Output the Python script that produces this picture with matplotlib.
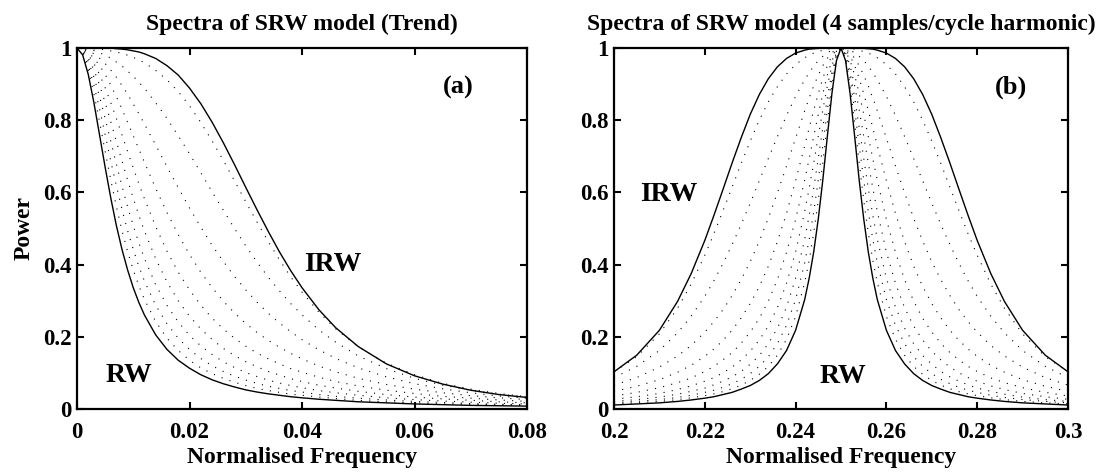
import numpy as np
import matplotlib
matplotlib.use('Agg')
import matplotlib.pyplot as plt

plt.rcParams['font.family'] = ['Liberation Serif', 'DejaVu Serif']
plt.rcParams['font.weight'] = 'bold'
plt.rcParams['axes.titleweight'] = 'bold'
plt.rcParams['axes.labelweight'] = 'bold'

# (a) trend: normalised frequency and power of RW, IRW and the SRW cases between them
freq_trend = [0, .001, .002, .003, .004, .005, .006, .007, .008, .009, .010, .011, .012,
              .014, .016, .018, .020, .022, .024, .026, .028, .030, .032, .034, .036, .038,
              .040, .043, .046, .050, .055, .060, .065, .070, .075, .080]
rw_trend = [1.0, .981, .927, .849, .760, .670, .585, .508, .442, .385, .336, .295, .260,
            .205, .165, .135, .113, .095, .081, .070, .061, .053, .047, .042, .038, .034,
            .031, .027, .024, .020, .017, .014, .012, .010, .009, .008]
irw_trend = [1.0, 1.0, 1.0, 1.0, 1.0, 1.0, 1.0, .998, .997, .995, .992, .989, .984,
             .971, .951, .925, .889, .846, .795, .738, .677, .614, .552, .492, .435, .383,
             .336, .275, .225, .173, .125, .092, .069, .052, .040, .032]
# smoothing parameter 0.1 ... 0.9
srw_trend = [
    [1.0, .984, .940, .874, .796, .714, .635, .561, .494, .436, .385, .341, .303,
     .242, .196, .162, .135, .114, .098, .085, .074, .065, .057, .051, .046, .041,
     .038, .033, .029, .024, .020, .017, .014, .013, .011, .010],
    [1.0, .988, .952, .898, .832, .760, .687, .618, .553, .494, .442, .395, .354,
     .287, .236, .196, .165, .140, .120, .104, .091, .080, .071, .063, .057, .051,
     .047, .040, .035, .030, .025, .021, .018, .015, .013, .012],
    [1.0, .990, .963, .920, .866, .805, .742, .678, .617, .560, .508, .460, .417,
     .344, .287, .241, .204, .175, .151, .131, .115, .101, .090, .080, .072, .065,
     .059, .051, .045, .038, .031, .026, .022, .019, .016, .014],
    [1.0, .993, .972, .940, .898, .849, .796, .741, .687, .634, .584, .536, .493,
     .416, .352, .300, .257, .222, .193, .168, .148, .131, .117, .104, .094, .084,
     .076, .066, .058, .049, .040, .033, .028, .024, .020, .017],
    [1.0, .995, .981, .957, .927, .890, .849, .805, .759, .713, .668, .624, .582,
     .505, .437, .379, .330, .288, .252, .222, .196, .174, .155, .139, .125, .112,
     .102, .088, .076, .064, .052, .043, .035, .030, .025, .021],
    [1.0, .997, .988, .972, .952, .927, .897, .865, .831, .794, .757, .720, .683,
     .611, .544, .483, .428, .379, .337, .299, .266, .237, .212, .190, .171, .154,
     .139, .119, .103, .085, .068, .055, .045, .037, .031, .026],
    [1.0, .998, .993, .984, .972, .957, .939, .919, .896, .872, .845, .818, .789,
     .731, .671, .613, .557, .504, .454, .409, .367, .330, .296, .265, .238, .214,
     .192, .164, .140, .114, .089, .070, .056, .045, .036, .030],
    [1.0, .999, .997, .993, .987, .980, .972, .961, .950, .936, .922, .905, .888,
     .848, .805, .757, .707, .655, .602, .551, .500, .452, .407, .365, .327, .292,
     .261, .219, .185, .147, .112, .085, .066, .052, .041, .033],
    [1.0, .999, .999, .998, .997, .995, .992, .989, .985, .980, .974, .967, .959,
     .938, .912, .879, .840, .794, .743, .689, .632, .574, .518, .464, .413, .366,
     .324, .268, .222, .172, .127, .095, .071, .055, .043, .034],
]

# (b) harmonic at 4 samples/cycle: distance from the peak and power either side
f_peak = 0.25
offset_harm = [0, .001, .002, .003, .004, .005, .006, .007, .008, .010, .012, .014, .016,
               .018, .020, .022, .024, .026, .028, .030, .033, .036, .040, .045, .050]
rw_harm = [1.0, .965, .874, .756, .635, .527, .436, .363, .303, .218, .162, .125, .098,
           .079, .065, .055, .046, .040, .034, .030, .025, .021, .017, .014, .011]
irw_harm = [1.0, 1.0, 1.0, 1.0, 1.0, .999, .998, .997, .994, .986, .971, .948, .915,
            .871, .816, .751, .681, .608, .536, .467, .375, .298, .218, .149, .103]
srw_harm = [
    [1.0, .972, .896, .793, .683, .579, .489, .412, .350, .256, .193, .149, .118,
     .096, .079, .066, .056, .048, .042, .037, .031, .026, .021, .017, .014],
    [1.0, .978, .916, .829, .731, .635, .547, .470, .405, .303, .232, .181, .145,
     .118, .098, .082, .070, .060, .052, .046, .038, .032, .026, .021, .017],
    [1.0, .983, .934, .863, .780, .695, .612, .537, .470, .362, .282, .224, .181,
     .148, .124, .104, .089, .077, .067, .058, .049, .041, .033, .026, .021],
    [1.0, .987, .951, .896, .829, .756, .682, .612, .547, .435, .348, .281, .230,
     .191, .160, .136, .116, .100, .087, .077, .064, .054, .043, .034, .027],
    [1.0, .991, .965, .925, .874, .817, .755, .694, .634, .525, .434, .359, .299,
     .251, .213, .182, .156, .136, .118, .104, .086, .073, .059, .046, .036],
    [1.0, .994, .978, .951, .916, .874, .828, .779, .729, .632, .542, .464, .396,
     .339, .292, .252, .218, .190, .166, .146, .121, .102, .081, .063, .049],
    [1.0, .997, .987, .972, .951, .925, .895, .862, .826, .750, .673, .599, .529,
     .465, .408, .358, .314, .275, .242, .213, .176, .147, .116, .087, .066],
    [1.0, .999, .994, .987, .977, .965, .950, .932, .912, .866, .813, .755, .694,
     .632, .570, .511, .455, .403, .355, .312, .257, .211, .162, .118, .087],
    [1.0, 1.0, .999, .997, .994, .990, .986, .980, .973, .954, .928, .893, .851,
     .800, .742, .680, .614, .549, .485, .426, .346, .279, .208, .145, .103],
]

dotted = (0, (1, 6.5))

fig = plt.figure(figsize=(11.03, 4.76), dpi=100)
ax1 = fig.add_axes([77 / 1103, 1 - 409 / 476, 450 / 1103, 361 / 476])
ax2 = fig.add_axes([614 / 1103, 1 - 409 / 476, 454 / 1103, 361 / 476])

# trend spectra
for p in srw_trend:
    ax1.plot(freq_trend, p, color='k', lw=0.8, linestyle=dotted)
ax1.plot(freq_trend, rw_trend, color='k', lw=1.0)
ax1.plot(freq_trend, irw_trend, color='k', lw=1.0)


def both_sides(p):
    d = np.asarray(offset_harm)
    x = np.r_[f_peak - d[::-1], f_peak + d[1:]]
    y = np.r_[np.asarray(p)[::-1], np.asarray(p)[1:]]
    return x, y


# harmonic spectra, symmetric round the peak
for p in srw_harm:
    ax2.plot(*both_sides(p), color='k', lw=0.8, linestyle=dotted)
ax2.plot(*both_sides(rw_harm), color='k', lw=1.0)
ax2.plot(*both_sides(irw_harm), color='k', lw=1.0)

ax1.set_xlim(0, 0.08)
ax2.set_xlim(0.2, 0.3)
ax1.set_xticks([0, 0.02, 0.04, 0.06, 0.08], ['0', '0.02', '0.04', '0.06', '0.08'])
ax2.set_xticks([0.2, 0.22, 0.24, 0.26, 0.28, 0.3], ['0.2', '0.22', '0.24', '0.26', '0.28', '0.3'])
for ax in (ax1, ax2):
    ax.set_ylim(0, 1)
    ax.set_yticks([0, 0.2, 0.4, 0.6, 0.8, 1], ['0', '0.2', '0.4', '0.6', '0.8', '1'])
    ax.tick_params(direction='in', top=True, right=True, labelsize=16.5, width=1.5, length=5)
    ax.tick_params(axis='x', pad=9)
    ax.tick_params(axis='y', pad=4)
    for s in ax.spines.values():
        s.set_linewidth(1.6)
    ax.set_xlabel('Normalised Frequency', fontsize=17, labelpad=3)

ax1.set_ylabel('Power', fontsize=17, labelpad=6)
ax1.set_title('Spectra of SRW model (Trend)', fontsize=17, pad=13)
ax2.set_title('Spectra of SRW model (4 samples/cycle harmonic)', fontsize=17, pad=13)
ax1.text(0.065, 0.892, '(a)', fontsize=19, va='center')
ax2.text(0.284, 0.892, '(b)', fontsize=19, va='center')
ax1.text(0.0404, 0.40, 'IRW', fontsize=20, va='center')
ax1.text(0.005, 0.094, 'RW', fontsize=20, va='center')
ax2.text(0.2057, 0.593, 'IRW', fontsize=20, va='center')
ax2.text(0.2452, 0.091, 'RW', fontsize=20, va='center')

fig.savefig('out.png', dpi=100)
